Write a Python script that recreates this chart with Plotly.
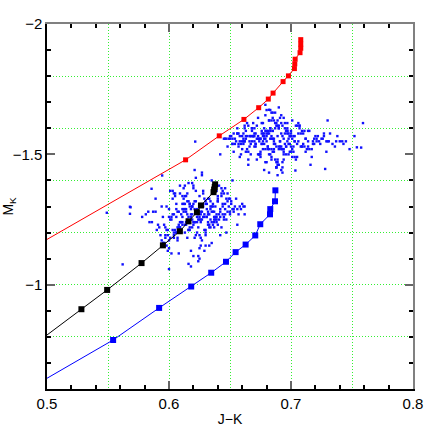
import plotly.graph_objects as go

# model sequences (J-K, M_K); first point of each lies left of the frame
red_jk = [0.480, 0.6136, 0.6412, 0.6614, 0.6735, 0.6814, 0.6853, 0.6935, 0.6979,
          0.7028, 0.7031, 0.7034, 0.7074, 0.7080, 0.7080, 0.7080]
red_mk = [-1.120, -1.479, -1.571, -1.634, -1.679, -1.712, -1.735, -1.779, -1.801,
          -1.829, -1.847, -1.865, -1.890, -1.907, -1.923, -1.940]

black_jk = [0.480, 0.5282, 0.5493, 0.5775, 0.5950, 0.6089, 0.6160, 0.6229, 0.6262,
            0.6365, 0.6370, 0.6375, 0.6378]
black_mk = [-0.737, -0.906, -0.980, -1.083, -1.151, -1.205, -1.243, -1.278, -1.304,
            -1.355, -1.365, -1.375, -1.385]

blue_jk = [0.480, 0.5542, 0.5919, 0.6182, 0.6346, 0.6467, 0.6546, 0.6628, 0.6707,
           0.6748, 0.6828, 0.6830, 0.6869, 0.6872]
blue_mk = [-0.587, -0.788, -0.911, -0.993, -1.046, -1.088, -1.125, -1.154, -1.189,
           -1.232, -1.270, -1.290, -1.320, -1.362]

# observed stars, lower clump
clump1_jk = [
    0.618, 0.631, 0.607, 0.642, 0.625, 0.599, 0.613, 0.636, 0.621, 0.647,
    0.603, 0.628, 0.611, 0.639, 0.594, 0.624, 0.633, 0.616, 0.652, 0.606,
    0.627, 0.641, 0.612, 0.598, 0.635, 0.620, 0.645, 0.609, 0.629, 0.617,
    0.638, 0.601, 0.623, 0.649, 0.614, 0.632, 0.605, 0.626, 0.643, 0.596,
    0.619, 0.637, 0.610, 0.630, 0.622, 0.654, 0.604, 0.615, 0.640, 0.608,
    0.634, 0.619, 0.646, 0.600, 0.626, 0.613, 0.644, 0.590, 0.628, 0.617,
    0.650, 0.606, 0.632, 0.621, 0.639, 0.611, 0.597, 0.624, 0.648, 0.609,
    0.635, 0.618, 0.602, 0.630, 0.643, 0.614, 0.626, 0.593, 0.638, 0.620,
    0.656, 0.607, 0.633, 0.616, 0.641, 0.599, 0.627, 0.612, 0.646, 0.604,
    0.623, 0.636, 0.610, 0.652, 0.619, 0.631, 0.595, 0.625, 0.640, 0.608,
    0.615, 0.629, 0.587, 0.637, 0.621, 0.644, 0.603, 0.618, 0.634, 0.611,
    0.658, 0.624, 0.600, 0.628, 0.642, 0.613, 0.632, 0.606, 0.620, 0.647,
    0.591, 0.617, 0.639, 0.625, 0.609, 0.635, 0.622, 0.650, 0.602, 0.630,
    0.614, 0.643, 0.597, 0.627, 0.619, 0.638, 0.605, 0.633, 0.616, 0.660,
    0.623, 0.608, 0.645, 0.629, 0.584, 0.612, 0.636, 0.620, 0.641, 0.601,
    0.626, 0.615, 0.653, 0.610, 0.631, 0.598, 0.622, 0.639, 0.607, 0.618,
    0.578, 0.634, 0.613, 0.648, 0.625, 0.604, 0.637, 0.619, 0.596, 0.630,
    0.644, 0.611, 0.627, 0.662, 0.616, 0.589, 0.635, 0.621, 0.606, 0.640,
    0.621, 0.609, 0.637, 0.598, 0.628, 0.615, 0.649, 0.604, 0.632, 0.619,
    0.642, 0.611, 0.586, 0.625, 0.655, 0.613, 0.630, 0.601, 0.639, 0.617,
    0.594, 0.627, 0.646, 0.608, 0.634, 0.622, 0.659, 0.605, 0.618, 0.640,
    0.612, 0.600, 0.631, 0.651, 0.624, 0.614, 0.638, 0.592, 0.627, 0.645,
    0.616, 0.603, 0.633, 0.620, 0.657, 0.610, 0.636, 0.597, 0.623, 0.648,
    0.607, 0.629, 0.614, 0.643, 0.581, 0.619, 0.635, 0.602, 0.626, 0.653,
    0.611, 0.640, 0.596, 0.622, 0.632, 0.606, 0.647, 0.618, 0.589, 0.629,
    0.661, 0.613, 0.637, 0.600, 0.624, 0.644, 0.609, 0.617, 0.651, 0.595,
    0.626, 0.634, 0.604, 0.621, 0.642, 0.612, 0.583, 0.630, 0.615, 0.656,
    0.603, 0.639, 0.620, 0.608, 0.646, 0.625, 0.599, 0.633, 0.616, 0.650,
    0.5685, 0.568, 0.562, 0.5857, 0.5944, 0.549, 0.568, 0.655, 0.662, 0.600,
]
clump1_mk = [
    -1.27, -1.31, -1.22, -1.29, -1.25, -1.19, -1.34, -1.28, -1.24, -1.33,
    -1.21, -1.30, -1.26, -1.36, -1.17, -1.27, -1.23, -1.32, -1.29, -1.20,
    -1.25, -1.38, -1.28, -1.15, -1.30, -1.24, -1.35, -1.22, -1.27, -1.31,
    -1.26, -1.18, -1.29, -1.33, -1.23, -1.28, -1.21, -1.25, -1.37, -1.16,
    -1.30, -1.26, -1.24, -1.32, -1.28, -1.30, -1.19, -1.27, -1.34, -1.22,
    -1.29, -1.25, -1.31, -1.14, -1.28, -1.23, -1.36, -1.21, -1.26, -1.30,
    -1.33, -1.20, -1.27, -1.24, -1.39, -1.29, -1.18, -1.25, -1.32, -1.22,
    -1.28, -1.26, -1.12, -1.31, -1.35, -1.24, -1.27, -1.19, -1.30, -1.23,
    -1.29, -1.17, -1.33, -1.26, -1.25, -1.21, -1.28, -1.31, -1.37, -1.20,
    -1.24, -1.30, -1.27, -1.40, -1.22, -1.29, -1.16, -1.26, -1.32, -1.23,
    -1.35, -1.21, -1.28, -1.24, -1.18, -1.31, -1.27, -1.13, -1.25, -1.34,
    -1.30, -1.22, -1.26, -1.36, -1.28, -1.20, -1.33, -1.29, -1.11, -1.25,
    -1.23, -1.31, -1.27, -1.19, -1.38, -1.24, -1.32, -1.28, -1.26, -1.21,
    -1.29, -1.34, -1.22, -1.17, -1.30, -1.25, -1.35, -1.27, -1.08, -1.31,
    -1.20, -1.28, -1.26, -1.33, -1.24, -1.29, -1.23, -1.37, -1.27, -1.25,
    -1.15, -1.32, -1.28, -1.21, -1.26, -1.30, -1.41, -1.24, -1.18, -1.29,
    -1.26, -1.22, -1.31, -1.28, -1.10, -1.35, -1.25, -1.27, -1.23, -1.19,
    -1.30, -1.24, -1.43, -1.27, -1.21, -1.33, -1.16, -1.29, -1.26, -1.32,
    -1.32, -1.24, -1.28, -1.21, -1.35, -1.18, -1.30, -1.27, -1.23, -1.39,
    -1.26, -1.31, -1.24, -1.14, -1.33, -1.29, -1.20, -1.36, -1.25, -1.22,
    -1.30, -1.42, -1.27, -1.12, -1.32, -1.19, -1.29, -1.34, -1.25, -1.23,
    -1.37, -1.17, -1.26, -1.31, -1.09, -1.28, -1.36, -1.22, -1.30, -1.25,
    -1.21, -1.33, -1.15, -1.38, -1.27, -1.24, -1.31, -1.19, -1.26, -1.35,
    -1.28, -1.13, -1.34, -1.22, -1.27, -1.30, -1.40, -1.25, -1.18, -1.29,
    -1.23, -1.33, -1.16, -1.36, -1.24, -1.31, -1.20, -1.07, -1.28, -1.26,
    -1.30, -1.38, -1.22, -1.29, -1.11, -1.27, -1.35, -1.21, -1.32, -1.26,
    -1.24, -1.30, -1.18, -1.44, -1.19, -1.33, -1.28, -1.15, -1.25, -1.23,
    -1.36, -1.26, -1.31, -1.20, -1.29, -1.34, -1.13, -1.22, -1.39, -1.27,
    -1.297, -1.272, -1.078, -1.368, -1.419, -1.276, -1.299, -1.12, -1.30, -1.06,
]

# observed stars, upper clump
clump2_jk = [
    0.684, 0.671, 0.697, 0.663, 0.689, 0.676, 0.705, 0.658, 0.692, 0.680,
    0.668, 0.701, 0.686, 0.652, 0.694, 0.677, 0.714, 0.665, 0.688, 0.673,
    0.699, 0.682, 0.660, 0.709, 0.690, 0.670, 0.679, 0.721, 0.656, 0.695,
    0.685, 0.667, 0.703, 0.674, 0.691, 0.648, 0.683, 0.712, 0.662, 0.687,
    0.678, 0.698, 0.669, 0.730, 0.681, 0.693, 0.659, 0.707, 0.675, 0.688,
    0.664, 0.696, 0.683, 0.717, 0.672, 0.690, 0.654, 0.700, 0.679, 0.686,
    0.726, 0.666, 0.693, 0.680, 0.708, 0.661, 0.687, 0.674, 0.738, 0.697,
    0.682, 0.650, 0.691, 0.670, 0.704, 0.685, 0.663, 0.711, 0.676, 0.694,
    0.689, 0.657, 0.700, 0.678, 0.723, 0.668, 0.692, 0.684, 0.645, 0.706,
    0.673, 0.698, 0.681, 0.715, 0.662, 0.689, 0.677, 0.734, 0.667, 0.695,
    0.686, 0.653, 0.702, 0.680, 0.719, 0.671, 0.693, 0.658, 0.709, 0.683,
    0.697, 0.675, 0.742, 0.688, 0.664, 0.701, 0.679, 0.716, 0.651, 0.690,
    0.682, 0.706, 0.669, 0.694, 0.727, 0.676, 0.687, 0.660, 0.712, 0.684,
    0.699, 0.672, 0.646, 0.691, 0.680, 0.722, 0.665, 0.703, 0.685, 0.748,
    0.677, 0.693, 0.656, 0.710, 0.688, 0.670, 0.736, 0.683, 0.696, 0.661,
    0.690, 0.678, 0.718, 0.667, 0.701, 0.686, 0.652, 0.695, 0.674, 0.729,
    0.681, 0.698, 0.663, 0.713, 0.689, 0.675, 0.704, 0.658, 0.692, 0.684,
    0.745, 0.670, 0.696, 0.679, 0.707, 0.666, 0.688, 0.720, 0.676, 0.700,
    0.687, 0.654, 0.694, 0.682, 0.731, 0.672, 0.699, 0.661, 0.690, 0.714,
    0.678, 0.703, 0.668, 0.685, 0.725, 0.697, 0.657, 0.692, 0.680, 0.740,
    0.676, 0.693, 0.661, 0.705, 0.684, 0.669, 0.718, 0.689, 0.652, 0.698,
    0.681, 0.711, 0.665, 0.694, 0.673, 0.729, 0.686, 0.657, 0.702, 0.679,
    0.690, 0.667, 0.715, 0.683, 0.649, 0.697, 0.674, 0.708, 0.688, 0.662,
    0.724, 0.680, 0.695, 0.670, 0.703, 0.685, 0.655, 0.712, 0.677, 0.692,
    0.666, 0.700, 0.683, 0.737, 0.671, 0.689, 0.659, 0.706, 0.678, 0.696,
    0.687, 0.663, 0.719, 0.675, 0.699, 0.682, 0.647, 0.709, 0.690, 0.668,
    0.732, 0.684, 0.701, 0.660, 0.693, 0.677, 0.714, 0.686, 0.653, 0.697,
    0.673, 0.705, 0.681, 0.743, 0.664, 0.691, 0.679, 0.717, 0.669, 0.688,
    0.700, 0.656, 0.685, 0.710, 0.675, 0.694, 0.662, 0.727, 0.682, 0.696,
    0.671, 0.707, 0.689, 0.650, 0.702, 0.678, 0.721, 0.665, 0.692, 0.684,
    0.759, 0.754, 0.7575, 0.728, 0.682, 0.7036, 0.730, 0.6215, 0.642, 0.752,
]
clump2_mk = [
    -1.56, -1.53, -1.59, -1.51, -1.57, -1.62, -1.54, -1.49, -1.58, -1.55,
    -1.60, -1.52, -1.56, -1.54, -1.48, -1.58, -1.55, -1.61, -1.53, -1.57,
    -1.51, -1.63, -1.55, -1.59, -1.46, -1.57, -1.52, -1.56, -1.58, -1.54,
    -1.59, -1.50, -1.57, -1.55, -1.64, -1.53, -1.56, -1.51, -1.60, -1.48,
    -1.54, -1.58, -1.62, -1.55, -1.52, -1.57, -1.50, -1.61, -1.56, -1.45,
    -1.57, -1.53, -1.59, -1.49, -1.56, -1.60, -1.54, -1.58, -1.65, -1.52,
    -1.56, -1.55, -1.61, -1.47, -1.53, -1.58, -1.54, -1.50, -1.57, -1.62,
    -1.52, -1.57, -1.55, -1.60, -1.48, -1.66, -1.56, -1.53, -1.59, -1.51,
    -1.61, -1.54, -1.57, -1.44, -1.55, -1.59, -1.52, -1.63, -1.56, -1.58,
    -1.50, -1.56, -1.53, -1.59, -1.55, -1.47, -1.62, -1.54, -1.57, -1.60,
    -1.55, -1.58, -1.51, -1.67, -1.56, -1.54, -1.43, -1.57, -1.53, -1.60,
    -1.58, -1.49, -1.55, -1.61, -1.52, -1.56, -1.59, -1.46, -1.57, -1.53,
    -1.63, -1.55, -1.57, -1.50, -1.58, -1.54, -1.60, -1.52, -1.56, -1.48,
    -1.54, -1.61, -1.56, -1.53, -1.59, -1.57, -1.51, -1.55, -1.64, -1.52,
    -1.57, -1.45, -1.58, -1.54, -1.62, -1.55, -1.53, -1.50, -1.59, -1.56,
    -1.52, -1.60, -1.55, -1.57, -1.49, -1.63, -1.54, -1.58, -1.56, -1.51,
    -1.59, -1.54, -1.57, -1.52, -1.42, -1.56, -1.61, -1.55, -1.53, -1.66,
    -1.55, -1.58, -1.50, -1.56, -1.60, -1.53, -1.47, -1.57, -1.54, -1.59,
    -1.62, -1.56, -1.52, -1.58, -1.55, -1.48, -1.57, -1.54, -1.68, -1.53,
    -1.57, -1.55, -1.60, -1.51, -1.56, -1.59, -1.53, -1.44, -1.58, -1.55,
    -1.58, -1.52, -1.55, -1.61, -1.49, -1.57, -1.54, -1.63, -1.56, -1.50,
    -1.53, -1.59, -1.46, -1.56, -1.64, -1.55, -1.51, -1.58, -1.57, -1.47,
    -1.60, -1.54, -1.52, -1.67, -1.56, -1.55, -1.50, -1.58, -1.45, -1.61,
    -1.54, -1.57, -1.62, -1.53, -1.49, -1.59, -1.55, -1.56, -1.52, -1.65,
    -1.57, -1.51, -1.60, -1.55, -1.58, -1.48, -1.54, -1.62, -1.56, -1.53,
    -1.66, -1.59, -1.54, -1.50, -1.57, -1.43, -1.56, -1.53, -1.61, -1.55,
    -1.58, -1.52, -1.63, -1.57, -1.47, -1.55, -1.59, -1.54, -1.51, -1.60,
    -1.56, -1.49, -1.58, -1.54, -1.62, -1.55, -1.69, -1.52, -1.57, -1.45,
    -1.53, -1.60, -1.56, -1.58, -1.51, -1.64, -1.55, -1.57, -1.50, -1.59,
    -1.54, -1.61, -1.46, -1.56, -1.53, -1.58, -1.55, -1.48, -1.62, -1.57,
    -1.62, -1.527, -1.526, -1.444, -1.671, -1.438, -1.63, -1.549, -1.50, -1.57,
]

x_range = [0.5, 0.8]
y_range = [-0.6, -2.0]
font = 'Liberation Sans'
grid_style = dict(showgrid=True, gridcolor='#33f033', griddash='1px,2px', gridwidth=1)

fig = go.Figure()

# empty traces so the overlay axes (frame top/right and the dotted grid) get drawn
fig.add_trace(go.Scatter(x=[], y=[], xaxis='x3', yaxis='y3', showlegend=False, hoverinfo='skip'))
fig.add_trace(go.Scatter(x=[], y=[], xaxis='x2', yaxis='y2', showlegend=False, hoverinfo='skip'))

for jk, mk in [(clump1_jk, clump1_mk), (clump2_jk, clump2_mk)]:
    fig.add_trace(go.Scatter(
        x=jk, y=mk, mode='markers',
        marker=dict(symbol='square', size=2.4, color='#1010ff', line=dict(width=0)),
        showlegend=False,
    ))

for jk, mk, col, msize in [(red_jk, red_mk, '#ff0000', 5),
                           (black_jk, black_mk, '#000000', 6),
                           (blue_jk, blue_mk, '#0000ff', 6)]:
    fig.add_trace(go.Scatter(
        x=jk, y=mk, mode='lines+markers',
        line=dict(color=col, width=1),
        marker=dict(symbol='square', size=msize, color=col),
        showlegend=False,
    ))

tick_common = dict(ticks='inside', tickcolor='#666666', tickwidth=1.5,
                   zeroline=False, showgrid=False, automargin=False)

fig.update_layout(
    template='none',
    width=436, height=436,
    margin=dict(l=47, r=23, t=24, b=47),
    plot_bgcolor='white', paper_bgcolor='white',
    font=dict(family=font, size=15, color='black'),
    xaxis=dict(
        range=x_range, tick0=0.5, dtick=0.1, tickformat='.1f', ticklen=8,
        showline=True, linecolor='black', linewidth=1.5, mirror=False,
        minor=dict(dtick=0.02, ticks='inside', ticklen=4, tickcolor='black', showgrid=False),
        title=dict(text='J\u2212K', font=dict(size=14), standoff=3),
        **tick_common,
    ),
    xaxis2=dict(
        range=x_range, overlaying='x', anchor='y2', side='top', tick0=0.5, dtick=0.1,
        ticklen=8, showticklabels=False, showline=True, linecolor='#808080', linewidth=1.5,
        minor=dict(dtick=0.02, ticks='inside', ticklen=4, tickcolor='black', showgrid=False),
        **tick_common,
    ),
    xaxis3=dict(
        range=x_range, overlaying='x', anchor='y3', tick0=0.5, dtick=0.05, **grid_style,
        ticks='', showticklabels=False, showline=False, zeroline=False, automargin=False,
    ),
    yaxis=dict(
        range=y_range, tick0=-2, dtick=0.5, ticklen=8,
        showline=True, linecolor='black', linewidth=1.5, mirror=False,
        minor=dict(dtick=0.1, ticks='inside', ticklen=4, tickcolor='black', showgrid=False),
        title=dict(text='M<sub>K</sub>', font=dict(size=14), standoff=6),
        **tick_common,
    ),
    yaxis2=dict(
        range=y_range, overlaying='y', anchor='x2', side='right', tick0=-2, dtick=0.5,
        ticklen=8, showticklabels=False, showline=True, linecolor='#808080', linewidth=1.5,
        minor=dict(dtick=0.1, ticks='inside', ticklen=4, tickcolor='black', showgrid=False),
        **tick_common,
    ),
    yaxis3=dict(
        range=y_range, overlaying='y', anchor='x3', tick0=-2, dtick=0.2, **grid_style,
        ticks='', showticklabels=False, showline=False, zeroline=False, automargin=False,
    ),
)

# drop the default page margin so the figure sits at the window's top-left corner
fig.write_html('out.html', config={'displayModeBar': False},
               post_script="document.body.style.margin='0px';")
